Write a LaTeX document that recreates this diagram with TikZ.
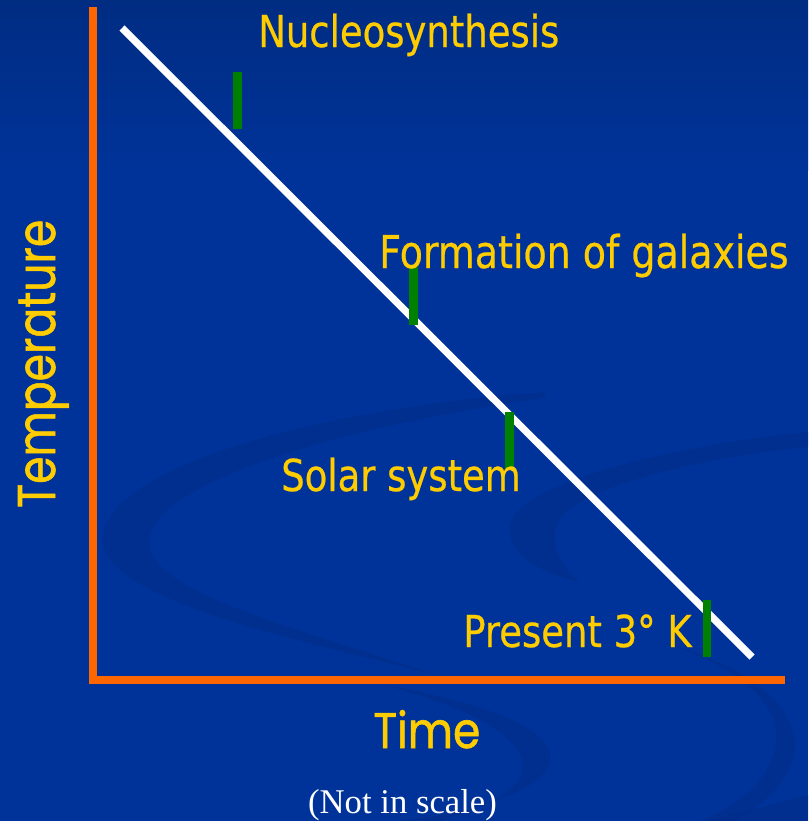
\documentclass[tikz,border=0pt]{standalone}
\usepackage{fontspec}
\setmainfont{Liberation Serif}
\newfontfamily\labfont[FakeStretch=0.84,FakeBold=0.5]{DejaVu Sans}
\newfontfamily\axfont[FakeBold=1.2]{Poppins}
\definecolor{bgblue}{RGB}{0,51,153}
\definecolor{bgtop}{RGB}{0,44,130}
\definecolor{swirl}{RGB}{0,44,138}
\definecolor{axisorange}{RGB}{255,102,0}
\definecolor{tickgreen}{RGB}{0,128,0}
\definecolor{labyellow}{RGB}{255,204,0}
\tikzset{
  lab/.style={font=\labfont\fontsize{33}{40}\selectfont, text=labyellow, inner sep=0pt, anchor=base west},
  axlab/.style={font=\axfont\fontsize{36}{40}\selectfont, text=labyellow, inner sep=0pt, anchor=base west},
  axisline/.style={draw=axisorange, line width=6pt},
  tickbar/.style={fill=tickgreen},
  swirlband/.style={fill=swirl, opacity=0.55}
}
\begin{document}
\begin{tikzpicture}[x=0.75pt,y=-0.75pt]
\useasboundingbox (0,0) rectangle (808,821);
\fill[bgblue] (0,0) rectangle (808,821);
\shade[top color=bgtop, bottom color=bgblue] (0,0) rectangle (808,170);
% faint background swirls
\fill[swirlband] (545,392) .. controls (350,405) and (110,460) .. (103,537)
   .. controls (98,600) and (300,640) .. (440,676)
   .. controls (300,628) and (140,592) .. (150,537)
   .. controls (160,480) and (350,425) .. (545,398) -- cycle;
\fill[swirlband] (380,684) .. controls (500,705) and (565,735) .. (548,768)
   .. controls (532,795) and (470,812) .. (400,821) -- (440,821)
   .. controls (495,805) and (528,785) .. (522,760)
   .. controls (512,730) and (460,705) .. (380,684) -- cycle;
\fill[swirlband] (808,432) .. controls (700,442) and (520,478) .. (510,525)
   .. controls (505,555) and (545,575) .. (580,582)
   .. controls (560,565) and (550,545) .. (557,525)
   .. controls (570,488) and (700,458) .. (808,447) -- cycle;
\fill[swirlband] (600,628) .. controls (720,648) and (795,700) .. (772,758)
   .. controls (760,790) and (730,808) .. (700,821) -- (735,821)
   .. controls (770,800) and (790,780) .. (795,750)
   .. controls (800,700) and (730,650) .. (600,628) -- cycle;
\fill[swirlband] (808,795) .. controls (770,805) and (730,815) .. (710,821) -- (808,821) -- cycle;
% axes
\coordinate (top) at (93,7);
\coordinate (origin) at (93,680);
\coordinate (right) at (785,680);
\draw[axisline] (top) -- (93,684);
\draw[axisline] (89,680) -- (right);
% cooling line
\coordinate (hot) at (122,28);
\coordinate (cold) at (752,657);
\draw[white, line width=5.4pt] (hot) -- (cold);
% event ticks
\fill[tickbar] (233,72) rectangle (242,129);
\fill[tickbar] (409,267) rectangle (418,325);
\fill[tickbar] (505,412) rectangle (514,470);
\fill[tickbar] (703,600) rectangle (711,657);
% labels
\node[lab] (nuc) at (258,47) {Nucleosynthesis};
\node[lab] (gal) at (379,268) {\resizebox{307pt}{!}{Formation of galaxies}};
\node[lab] (sol) at (281,491) {Solar system};
\node[lab] (pres) at (463,647) {Present 3° K};
\node[axlab, rotate=90] (temp) at (55,508) {\resizebox{216pt}{27.75pt}{Temperature}};
\node[axlab] (time) at (373,748) {\resizebox{80.25pt}{28.5pt}{Time}};
\node[font=\fontsize{26}{30}\selectfont, text=white, inner sep=0pt, anchor=base] (nis) at (402.5,813) {(Not in scale)};
\end{tikzpicture}
\end{document}
